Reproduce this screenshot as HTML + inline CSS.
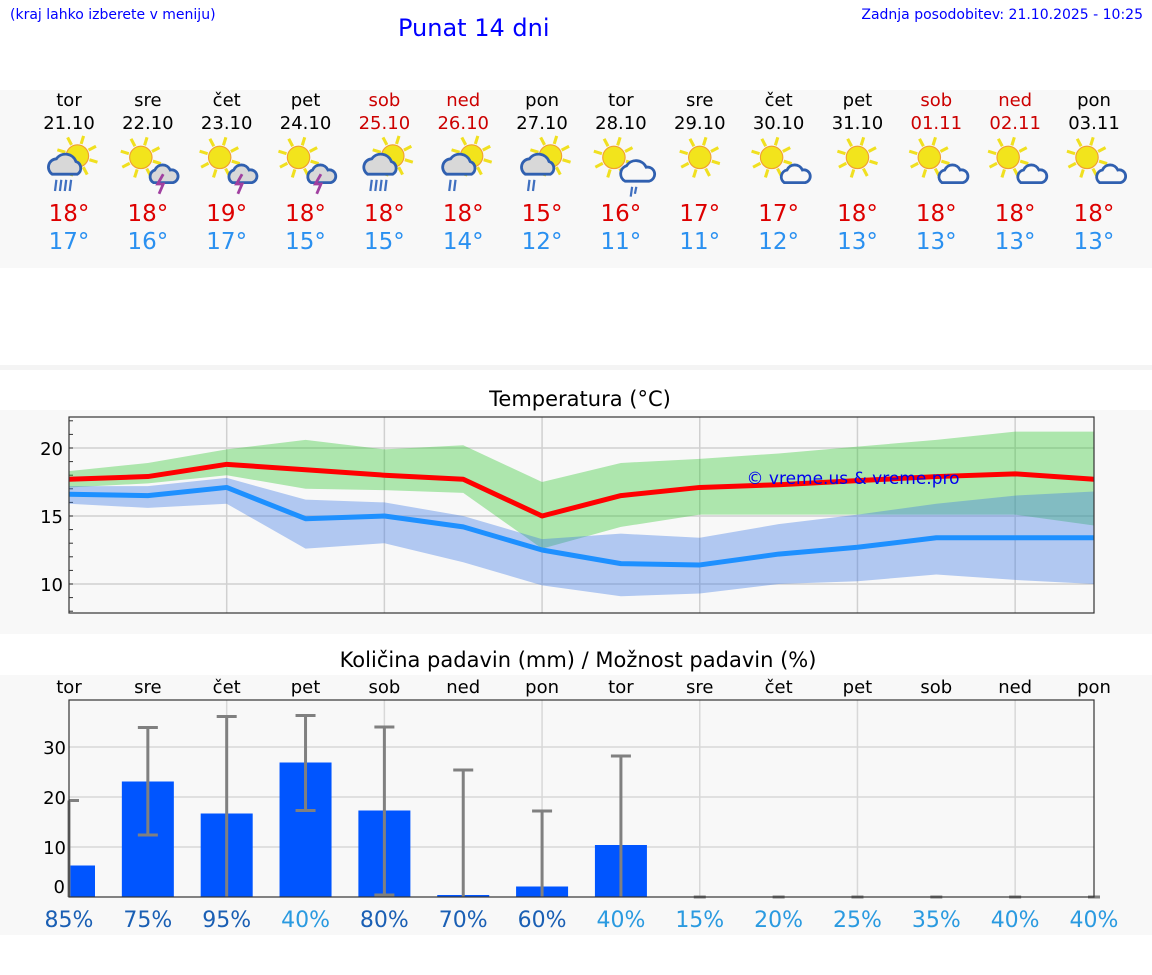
<!DOCTYPE html>
<html><head><meta charset="utf-8">
<style>
body{margin:0;width:1152px;height:975px;background:#fff;font-family:"DejaVu Sans","Liberation Sans",sans-serif;position:relative;overflow:hidden}
.abs{position:absolute}
</style></head>
<body>
<div class="abs" style="left:10px;top:7px;font-size:14px;color:#0000ff">(kraj lahko izberete v meniju)</div>
<div class="abs" style="left:398px;top:14px;font-size:24px;color:#0000ff">Punat 14 dni</div>
<div class="abs" style="right:9px;top:7px;font-size:14px;color:#0000ff">Zadnja posodobitev: 21.10.2025 - 10:25</div>
<div class="abs" style="left:0;top:90px;width:1152px;height:178px;background:#f8f8f8"></div>
<div class="abs" style="left:0;top:365px;width:1152px;height:5px;background:#f4f4f4"></div>
<div class="abs" style="left:0;top:410px;width:1152px;height:224px;background:#f8f8f8"></div>
<div class="abs" style="left:0;top:675px;width:1152px;height:260px;background:#f8f8f8"></div>
<div class="abs" style="left:0;width:1160px;text-align:center;top:387px;font-size:21px;color:#000">Temperatura (°C)</div>
<div class="abs" style="left:0;width:1156px;text-align:center;top:648px;font-size:21px;color:#000">Količina padavin (mm) / Možnost padavin (%)</div>
<svg id="svg" class="abs" style="left:0;top:0" width="1152" height="975"></svg>
<script>
const days=["tor","sre","čet","pet","sob","ned","pon","tor","sre","čet","pet","sob","ned","pon"];
const dates=["21.10","22.10","23.10","24.10","25.10","26.10","27.10","28.10","29.10","30.10","31.10","01.11","02.11","03.11"];
const weekend=[0,0,0,0,1,1,0,0,0,0,0,1,1,0];
const icons=["rain","storm","storm","storm","rain","rain2","rain2","cloudrain","sun","cloud","sun","cloud","cloud","cloud"];
const tmax=[18,18,19,18,18,18,15,16,17,17,18,18,18,18];
const tmin=[17,16,17,15,15,14,12,11,11,12,13,13,13,13];
const maxLine=[17.7,17.9,18.8,18.4,18.0,17.7,15.0,16.5,17.1,17.3,17.6,17.9,18.1,17.7];
const maxHi=[18.3,18.9,19.9,20.6,19.9,20.2,17.5,18.9,19.2,19.6,20.1,20.6,21.2,21.2];
const maxLo=[17.1,17.4,18.0,17.0,16.9,16.7,12.6,14.2,15.1,15.1,15.1,15.1,15.1,14.3];
const minLine=[16.6,16.5,17.1,14.8,15.0,14.2,12.5,11.5,11.4,12.2,12.7,13.4,13.4,13.4];
const minHi=[17.2,17.2,17.8,16.2,16.0,15.0,13.3,13.7,13.4,14.4,15.1,15.9,16.5,16.8];
const minLo=[15.9,15.6,15.9,12.6,13.0,11.6,9.9,9.1,9.3,10.0,10.2,10.7,10.3,10.0];
const tempTicks=[10,15,20];
const precip=[6.3,23.1,16.7,26.9,17.3,0.4,2.1,10.4,0,0,0,0,0,0];
const errHi=[19.3,33.9,36.1,36.3,34.0,25.4,17.2,28.2,0,0,0,0,0,0];
const errLo=[0,12.4,0,17.3,0.4,0,0,0,0,0,0,0,0,0];
const precipTicks=[0,10,20,30];
const prob=[85,75,95,40,80,70,60,40,15,20,25,35,40,40];

const S=document.getElementById('svg'),NS="http://www.w3.org/2000/svg";
function el(t,a,p){const e=document.createElementNS(NS,t);for(const k in a)e.setAttribute(k,a[k]);(p||S).appendChild(e);return e;}
function txt(x,y,s,size,fill,anchor){const e=el('text',{x:x,y:y,'font-size':size,fill:fill,'text-anchor':anchor||'middle','font-family':'DejaVu Sans, Liberation Sans, sans-serif'});e.textContent=s;return e;}
const X0=69,X1=1094,n=14;
const cx=i=>X0+(X1-X0)*i/(n-1);
for(let i=0;i<n;i++){
  const x=cx(i),c=weekend[i]?'#cc0000':'#000';
  let t=txt(x,106,days[i],18,c);
  
  
  t=txt(x,129,dates[i],18,c);
  
  
  t=txt(x,221,tmax[i]+'°',23,'#dd0000');
  
  
  t=txt(x,249,tmin[i]+'°',23,'#2a90f0');
  
  
  const g=el('g',{transform:'translate('+x+',163) scale(1.4)'});
  
  
  const k=icons[i];
  const big=(k=='rain'||k=='rain2');
  const sx=big?6:(k=='sun'?0:-5), sy=big?-5:-4;
  for(let a=0;a<8;a++){const an=a*Math.PI/4+0.3;el('line',{x1:sx+Math.cos(an)*9,y1:sy+Math.sin(an)*9,x2:sx+Math.cos(an)*15,y2:sy+Math.sin(an)*15,stroke:'#f0e020','stroke-width':2.2},g);}
  el('circle',{cx:sx,cy:sy,r:8,fill:'#f2e41c',stroke:'#f0a030','stroke-width':0.8},g);
  if(big){
    el('path',{d:'M-12 8 a6 6 0 0 1 3-11 a8 8 0 0 1 14 2 a5 5 0 0 1 1 9 z',fill:'#d8d8d8',stroke:'#3060b0','stroke-width':2},g);
    const m=k=='rain'?4:2;for(let j=0;j<m;j++)el('line',{x1:-9+j*3.5,y1:12,x2:-10+j*3.5,y2:20,stroke:'#4070c0','stroke-width':1.6},g);
  }else if(k=='storm'){
    el('path',{d:'M4 14 a5 5 0 0 1 1-9 a6 6 0 0 1 11 0 a4 4 0 0 1 2 9 z',fill:'#d8d8d8',stroke:'#3060b0','stroke-width':2},g);
    el('path',{d:'M11 8 l-4 7 h4 l-3 7',fill:'none',stroke:'#a040a0','stroke-width':2},g);
  }else if(k=='cloudrain'){
    el('path',{d:'M3 13 a6 6 0 0 1 1-11 a8 8 0 0 1 14 1 a5 5 0 0 1 2 10 z',fill:'#f8f8f8',stroke:'#3060b0','stroke-width':2},g);
    el('line',{x1:8,y1:17,x2:7,y2:24,stroke:'#4070c0','stroke-width':1.6},g);el('line',{x1:11,y1:17,x2:10,y2:22,stroke:'#4070c0','stroke-width':1.6},g);
  }else if(k=='cloud'){
    el('path',{d:'M4 14 a5 5 0 0 1 2-9 a6 6 0 0 1 11 0 a4 4 0 0 1 2 9 z',fill:'#f8f8f8',stroke:'#3060b0','stroke-width':2},g);
  }
}
const TY0=417,TY1=613,tY=v=>516-(v-15)*13.6;
const grid=el('g',{});


for(let i=2;i<n;i+=2)el('line',{x1:cx(i),y1:TY0,x2:cx(i),y2:TY1,stroke:'#d0d0d0','stroke-width':1.5},grid);
for(const v of tempTicks){el('line',{x1:X0,y1:tY(v),x2:X1,y2:tY(v),stroke:'#d0d0d0','stroke-width':1.5},grid);
  const t=txt(63,tY(v)+7,String(v),18,'#000','end');}
for(let v=8;v<=22;v++)el('line',{x1:X0,y1:tY(v),x2:X0+4,y2:tY(v),stroke:'#333'});
function band(hi,lo,fill,name){let d='M';for(let i=0;i<n;i++)d+=cx(i)+' '+tY(hi[i])+' L';for(let i=n-1;i>=0;i--)d+=cx(i)+' '+tY(lo[i])+(i?' L':' Z');const p=el('path',{d:d,fill:fill});}
band(maxHi,maxLo,'rgba(50,200,50,0.38)','max-temp-range');
band(minHi,minLo,'rgba(60,120,230,0.38)','min-temp-range');
function line(v,c,name){const p=el('polyline',{points:v.map((y,i)=>cx(i)+','+tY(y)).join(' '),fill:'none',stroke:c,'stroke-width':5,'stroke-linejoin':'round'});}
line(maxLine,'#ff0000','max-temp-line');
line(minLine,'#1e90ff','min-temp-line');
let w=txt(853,484,'© vreme.us & vreme.pro',17,'#0000ee');
el('rect',{x:X0,y:TY0,width:X1-X0,height:TY1-TY0,fill:'none',stroke:'#333','stroke-width':1.2});
const PY0=700,PY1=897,pY=v=>897-v*5;
const pg=el('g',{});


for(let i=2;i<n;i+=2)el('line',{x1:cx(i),y1:PY0,x2:cx(i),y2:PY1,stroke:'#d8d8d8','stroke-width':1.5},pg);
for(const v of precipTicks){if(v)el('line',{x1:X0,y1:pY(v),x2:X1,y2:pY(v),stroke:'#d8d8d8','stroke-width':1.5},pg);
  const t=txt(v?66:65,v?pY(v)+7:893,String(v),18,'#000','end');}
for(let i=0;i<n;i++){
  const x=cx(i);
  let t=txt(x,693,days[i],18,'#000');
  if(precip[i]>0){const x0=Math.max(X0,x-26);const r=el('rect',{x:x0,y:pY(precip[i]),width:x+26-x0,height:pY(0)-pY(precip[i]),fill:'#0055ff'});}
  const eg=el('g',{stroke:'#808080','stroke-width':3});
  
  
  if(errHi[i]>0){el('line',{x1:x,y1:pY(errHi[i]),x2:x,y2:pY(errLo[i])},eg);
    el('line',{x1:Math.max(X0,x-10),y1:pY(errHi[i]),x2:x+10,y2:pY(errHi[i])},eg);
    if(errLo[i]>0||i==4)el('line',{x1:x-10,y1:pY(errLo[i]),x2:x+10,y2:pY(errLo[i])},eg);}
  else el('line',{x1:x-6,y1:pY(0),x2:x+6,y2:pY(0)},eg);
  t=txt(x,927,prob[i]+'%',22,prob[i]>=50?'#1a5fb4':'#2a9ae0');
}
el('rect',{x:X0,y:PY0,width:X1-X0,height:PY1-PY0,fill:'none',stroke:'#333','stroke-width':1.2});
</script>
</body></html>
